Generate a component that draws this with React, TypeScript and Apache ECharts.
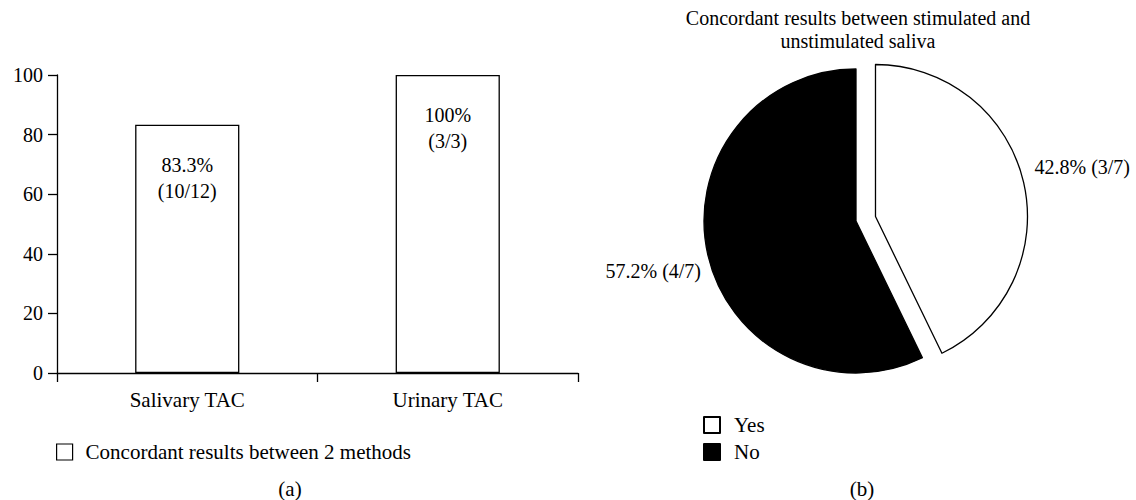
import React, { useEffect, useRef } from "react";
import * as echarts from "echarts";

const barCategories = ["Salivary TAC", "Urinary TAC"];
const barValues = [83.3, 100];
const barCounts = ["10/12", "3/3"];
const barSeriesName = "Concordant results between 2 methods";
const yTicks = { min: 0, max: 100, interval: 20 };

const pieNames = ["Yes", "No"];
const pieValues = [42.8, 57.2];
const pieCounts = ["3/7", "4/7"];
const pieColors = ["#ffffff", "#000000"];
const pieTitle = ["Concordant results between stimulated and", "unstimulated saliva"];
const panelTags = ["(a)", "(b)"];

const FONT = "Liberation Serif";

export default function App() {
  const ref = useRef<HTMLDivElement>(null);
  useEffect(() => {
    document.body.style.margin = "0";
    const chart = echarts.init(ref.current!, null, { renderer: "svg" });
    const num = { fontFamily: FONT, fontSize: 20, color: "#000" };
    const word = { fontFamily: FONT, fontSize: 21, color: "#000" };
    const g = (t: string, x: number, y: number, size: number) => ({
      type: "text",
      x,
      y,
      style: { text: t, textAlign: "center", textVerticalAlign: "middle", font: `${size}px "${FONT}"`, fill: "#000" },
    });
    chart.setOption({
      animation: false,
      backgroundColor: "#fff",
      textStyle: { fontFamily: FONT },
      grid: { left: 57, right: 558, top: 75, bottom: 127, containLabel: false },
      xAxis: {
        type: "category",
        data: barCategories,
        axisLine: { lineStyle: { color: "#000", width: 1.3 } },
        axisTick: { show: true, length: 9, lineStyle: { color: "#000", width: 1.3 } },
        axisLabel: { ...word, margin: 16 },
        splitLine: { show: false },
      },
      yAxis: {
        type: "value",
        min: yTicks.min,
        max: yTicks.max,
        interval: yTicks.interval,
        axisLine: { show: true, lineStyle: { color: "#000", width: 1.3 } },
        axisTick: { show: true, length: 9, lineStyle: { color: "#000", width: 1.3 } },
        axisLabel: { ...num, margin: 14 },
        splitLine: { show: false },
      },
      legend: [
        {
          data: [barSeriesName],
          left: 56,
          top: 441,
          padding: 0,
          icon: "rect",
          itemWidth: 16,
          itemHeight: 16,
          itemStyle: { color: "#fff", borderColor: "#000", borderWidth: 1.2 },
          textStyle: { ...word, lineHeight: 22, padding: [0, 0, 0, 8] },
          selectedMode: false,
        },
        {
          data: pieNames,
          left: 703,
          top: 414,
          padding: 0,
          orient: "vertical",
          icon: "rect",
          itemWidth: 16,
          itemHeight: 16,
          itemGap: 5,
          textStyle: { ...word, lineHeight: 22, padding: [0, 0, 0, 9] },
          selectedMode: false,
        },
      ],
      graphic: [
        g(pieTitle[0], 858, 18, 20),
        g(pieTitle[1], 858, 41, 20),
        g(panelTags[0], 290, 489, 21),
        g(panelTags[1], 862, 489, 21),
      ],
      series: [
        {
          type: "bar",
          name: barSeriesName,
          data: barValues,
          barWidth: "40%",
          itemStyle: { color: "#fff", borderColor: "#000", borderWidth: 1.3 },
          label: {
            show: true,
            position: "insideTop",
            distance: 27,
            ...num,
            lineHeight: 26,
            formatter: (p: any) => `${p.value}%\n(${barCounts[p.dataIndex]})`,
          },
          emphasis: { disabled: true },
        },
        {
          type: "pie",
          center: [856, 221],
          radius: 152,
          startAngle: 90,
          clockwise: true,
          selectedMode: "single",
          selectedOffset: 20,
          data: pieNames.map((n, i) => ({
            name: n,
            value: pieValues[i],
            selected: i === 0,
            itemStyle: { color: pieColors[i], borderColor: "#000", borderWidth: 1.3 },
          })),
          select: { itemStyle: { color: "#fff", borderColor: "#000", borderWidth: 1.3 } },
          label: {
            show: true,
            position: "outside",
            ...num,
            formatter: (p: any) => `${p.value}% (${pieCounts[p.dataIndex]})`,
          },
          labelLine: { show: false, length: 6, length2: 0 },
          labelLayout: (p: any) => (p.dataIndex === 0 ? { dy: -14 } : { dy: 15, dx: 4 }),
          emphasis: { disabled: true },
        },
      ],
    });
    return () => chart.dispose();
  }, []);
  return <div ref={ref} style={{ width: 1136, height: 500 }} />;
}
